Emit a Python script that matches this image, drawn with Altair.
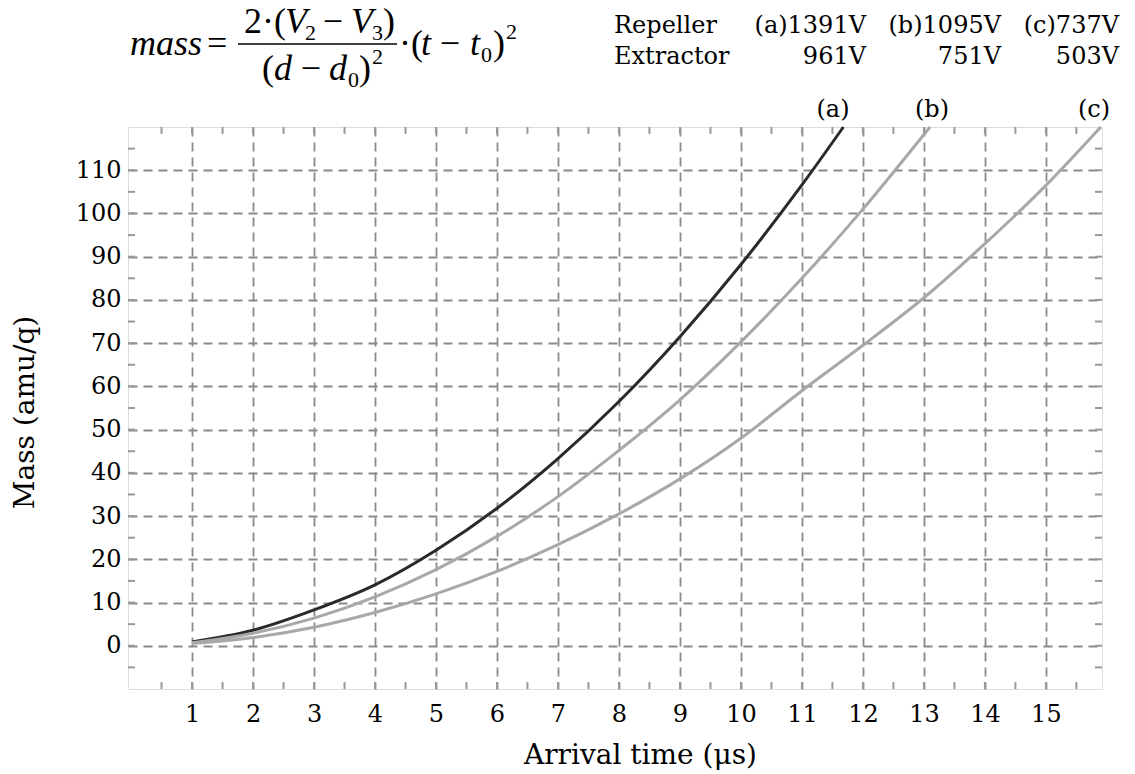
import altair as alt
import pandas as pd

# ---------------- data ----------------
t_a = [1, 2, 3, 4, 5, 6, 7, 8, 9, 10, 11, 11.68]
m_a = [0.9, 3.6, 8.3, 14.1, 22.1, 31.8, 43.3, 56.5, 71.5, 88.2, 106.6, 120]
t_b = [1, 2, 3, 4, 5, 6, 7, 8, 9, 10, 11, 12, 13.1]
m_b = [0.7, 2.9, 6.4, 11.3, 17.6, 25.3, 34.5, 45.2, 56.9, 70.3, 85, 101, 120]
t_c = [1, 2, 3, 4, 5, 6, 7, 8, 9, 10, 11, 12, 13, 14, 15, 15.9]
m_c = [0.5, 1.9, 4.3, 7.7, 12, 17.2, 23.4, 30.5, 38.6, 48, 59, 69.5, 80.5, 93, 106.5, 120]

series_names = ["(a)", "(b)", "(c)"]
series_colors = ["#2a2a2a", "#a8a8a8", "#a8a8a8"]

x_ticks = list(range(1, 16))
y_ticks = list(range(0, 111, 10))
x_minor = [i / 2 for i in range(1, 32)]
y_minor = list(range(-5, 120, 5))

legend_labels = ["Repeller", "Extractor"]
repeller_v = ["(a)1391V", "(b)1095V", "(c)737V"]
extractor_v = ["961V", "751V", "503V"]

SERIF = "DejaVu Serif"
TIMES = "Liberation Serif"

# ---------------- layout ----------------
OX, OY = 128, 127
W, H = 974, 562

rows = []
for name, ts, ms in zip(series_names, [t_a, t_b, t_c], [m_a, m_b, m_c]):
    for t, m in zip(ts, ms):
        rows.append({"series": name, "t": t, "mass": m})
df = pd.DataFrame(rows)

xscale = alt.Scale(domain=[-0.05, 15.92], nice=False, zero=False)
yscale = alt.Scale(domain=[-10, 120], nice=False, zero=False)

lines = alt.Chart(df).mark_line(strokeWidth=3, interpolate="monotone").encode(
    x=alt.X("t:Q", scale=xscale,
            axis=alt.Axis(values=x_ticks, format="d", title="Arrival time (μs)", grid=True,
                          gridDash=[9, 6], gridColor="#8a8a8a", gridWidth=1.8,
                          ticks=False, domain=False, labelFont=SERIF, labelFontSize=24,
                          labelColor="black", labelPadding=13, titleFont=SERIF,
                          titleFontSize=28, titleFontWeight="normal", titleColor="black",
                          titleX=512, titleY=66, titleBaseline="middle", labelFlush=False)),
    y=alt.Y("mass:Q", scale=yscale,
            axis=alt.Axis(values=y_ticks, format="d", title="Mass (amu/q)", grid=True,
                          gridDash=[9, 6], gridColor="#8a8a8a", gridWidth=1.8,
                          ticks=False, domain=False, labelFont=SERIF, labelFontSize=24,
                          labelColor="black", labelPadding=7, titleFont=SERIF,
                          titleFontSize=28, titleFontWeight="normal", titleColor="black",
                          titleX=-103, titleY=285, titleBaseline="middle", labelFlush=False)),
    color=alt.Color("series:N", scale=alt.Scale(domain=series_names, range=series_colors),
                    legend=None),
    detail="series:N",
)

# inward tick marks on the frame
xm = pd.DataFrame({"v": x_minor})
ym = pd.DataFrame({"v": y_minor})
tk = dict(color="#999999", strokeWidth=2)
tick_bottom = alt.Chart(xm).mark_rule(**tk).encode(
    x=alt.X("v:Q", scale=xscale), y=alt.value(H), y2=alt.value(H - 7))
tick_top = alt.Chart(xm).mark_rule(**tk).encode(
    x=alt.X("v:Q", scale=xscale), y=alt.value(0), y2=alt.value(7))
tick_left = alt.Chart(ym).mark_rule(**tk).encode(
    y=alt.Y("v:Q", scale=yscale), x=alt.value(0), x2=alt.value(7))
tick_right = alt.Chart(ym).mark_rule(**tk).encode(
    y=alt.Y("v:Q", scale=yscale), x=alt.value(W), x2=alt.value(W - 7))


def T(s, x, y, size, font=SERIF, italic=False, align="left"):
    return alt.Chart(pd.DataFrame({"s": [s]})).mark_text(
        font=font, fontSize=size, fontStyle="italic" if italic else "normal",
        align=align, baseline="alphabetic", color="black"
    ).encode(text="s:N", x=alt.value(x - OX), y=alt.value(y - OY))


texts = []
# legend block
texts.append(T(legend_labels[0], 614, 33, 24))
texts.append(T(legend_labels[1], 614, 64, 24))
for lab, xr in zip(repeller_v, [866, 1001, 1119]):
    texts.append(T(lab, xr, 33, 24, align="right"))
for lab, xr in zip(extractor_v, [866, 1001, 1119]):
    texts.append(T(lab, xr, 64, 24, align="right"))
# curve labels
for lab, xc in zip(series_names, [833, 932, 1094]):
    texts.append(T(lab, xc, 117, 24, align="center"))

# formula: mass = 2·(V2 − V3) / (d − d0)^2 · (t − t0)^2
F, S = 36, 22
texts += [
    T("mass", 130, 55, F, TIMES, True),
    T("=", 207, 55, F, TIMES),
    # numerator
    T("2·(", 244, 33, F, TIMES),
    T("V", 285, 33, F, TIMES, True),
    T("2", 305, 40, S, TIMES),
    T("−", 333, 33, F, TIMES, align="center"),
    T("V", 351, 33, F, TIMES, True),
    T("3", 372, 40, S, TIMES),
    T(")", 383, 33, F, TIMES),
    # denominator
    T("(", 262, 80, F, TIMES),
    T("d", 274, 80, F, TIMES, True),
    T("−", 311, 80, F, TIMES, align="center"),
    T("d", 329, 80, F, TIMES, True),
    T("0", 348, 87, S, TIMES),
    T(")", 359, 80, F, TIMES),
    T("2", 372, 64, S, TIMES),
    # rest
    T("·(", 399, 55, F, TIMES),
    T("t", 421, 55, F, TIMES, True),
    T("−", 450, 55, F, TIMES, align="center"),
    T("t", 470, 55, F, TIMES, True),
    T("0", 481, 62, S, TIMES),
    T(")", 493, 55, F, TIMES),
    T("2", 506, 39, S, TIMES),
]
frac_bar = alt.Chart(pd.DataFrame({"d": [0]})).mark_rule(color="black", strokeWidth=1.5).encode(
    x=alt.value(238 - OX), x2=alt.value(397 - OX), y=alt.value(44 - OY))

chart = alt.layer(
    lines, tick_bottom, tick_top, tick_left, tick_right, frac_bar, *texts
).properties(
    width=W, height=H,
    padding={"left": OX, "top": OY, "right": 1135 - OX - W, "bottom": 774 - OY - H},
    autosize="none",
).configure_view(stroke="#999999", strokeWidth=3).configure(background="white")

chart.save("out.html", embed_options={"renderer": "svg", "actions": False})
